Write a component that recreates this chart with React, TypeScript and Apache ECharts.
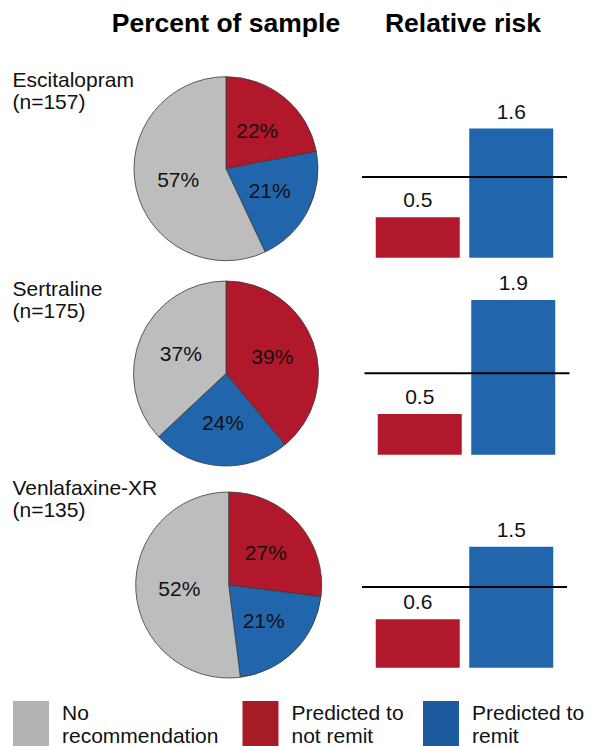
import React, { useEffect, useRef } from "react";
import * as echarts from "echarts";

// ---- data ----
const drugs = ["Escitalopram", "Sertraline", "Venlafaxine-XR"];
const sampleSizes = [157, 175, 135];
const groupNames = ["No recommendation", "Predicted to not remit", "Predicted to remit"];
const notRemitPct = [22, 39, 27];
const remitPct = [21, 24, 21];
const noRecPct = [57, 37, 52];
const riskCategories = ["Predicted to not remit", "Predicted to remit"];
const rrNotRemit = [0.5, 0.5, 0.6];
const rrRemit = [1.6, 1.9, 1.5];
const referenceRR = 1;
const rrAxisMax = 2;

// ---- layout / style ----
const FONT = "'Liberation Sans', Arial, Helvetica, sans-serif";
const RED = "#b2182b";
const BLUE = "#2166ac";
const GRAY = "#bdbdbd";
const LEG_GRAY = "#b3b3b3";
const LEG_RED = "#a61c26";
const LEG_BLUE = "#1b5b9e";

const pieCenters = [
  [226, 168.7],
  [226, 373.5],
  [228.7, 585],
];
const pieRadii = [92, 92.5, 93];
const panelTops = [96.3, 291.9, 506.3];
const panelHeights = [161.4, 162.8, 161.4];
const barLefts = [371, 373, 371];
const lineLefts = [362, 364.5, 362];
const drugLabelY = [
  [79.5, 101.5],
  [288.5, 310.5],
  [487.5, 509.5],
];

export default function App() {
  const ref = useRef<HTMLDivElement>(null);

  useEffect(() => {
    document.body.style.margin = "0";
    if (!ref.current) return;
    const chart = echarts.init(ref.current, null, { renderer: "svg" });

    const grid: any[] = [];
    const xAxis: any[] = [];
    const yAxis: any[] = [];
    const series: any[] = [];

    drugs.forEach((d, i) => {
      // pie
      series.push({
        type: "pie",
        center: pieCenters[i],
        radius: pieRadii[i],
        startAngle: 90,
        clockwise: true,
        silent: true,
        animation: false,
        itemStyle: { borderColor: "#3a3a3a", borderWidth: 0.8 },
        label: {
          show: true,
          position: "inside",
          formatter: "{c}%",
          fontSize: 21,
          fontFamily: FONT,
          color: "#111",
        },
        labelLine: { show: false },
        emphasis: { disabled: true },
        data: [
          { name: groupNames[1], value: notRemitPct[i], itemStyle: { color: RED } },
          { name: groupNames[2], value: remitPct[i], itemStyle: { color: BLUE } },
          { name: groupNames[0], value: noRecPct[i], itemStyle: { color: GRAY } },
        ],
      });

      // bar grid
      const gBar = grid.length;
      grid.push({ left: barLefts[i], width: 187, top: panelTops[i], height: panelHeights[i], containLabel: false });
      xAxis.push({ type: "category", gridIndex: gBar, data: riskCategories, show: false, boundaryGap: true });
      yAxis.push({ type: "value", gridIndex: gBar, min: 0, max: rrAxisMax, show: false });
      series.push({
        type: "bar",
        xAxisIndex: gBar,
        yAxisIndex: gBar,
        barWidth: 84,
        silent: true,
        z: 2,
        label: {
          show: true,
          position: "top",
          distance: 7,
          fontSize: 21,
          fontFamily: FONT,
          color: "#111",
          formatter: (p: any) => p.value.toFixed(1),
        },
        data: [
          { value: rrNotRemit[i], itemStyle: { color: RED } },
          { value: rrRemit[i], itemStyle: { color: BLUE } },
        ],
      });

      // reference line grid
      const gLine = grid.length;
      grid.push({ left: lineLefts[i], width: 205, top: panelTops[i], height: panelHeights[i], containLabel: false });
      xAxis.push({ type: "value", gridIndex: gLine, min: 0, max: 1, show: false });
      yAxis.push({ type: "value", gridIndex: gLine, min: 0, max: rrAxisMax, show: false });
      series.push({
        type: "line",
        xAxisIndex: gLine,
        yAxisIndex: gLine,
        symbol: "none",
        silent: true,
        z: 5,
        lineStyle: { color: "#000", width: 2 },
        data: [
          [0, referenceRR],
          [1, referenceRR],
        ],
      });
    });

    const graphic: any[] = [
      {
        type: "text",
        x: 226,
        y: 23.4,
        style: { text: "Percent of sample", font: `bold 26.5px ${FONT}`, fill: "#000", align: "center", verticalAlign: "middle" },
      },
      {
        type: "text",
        x: 463,
        y: 23.4,
        style: { text: "Relative risk", font: `bold 26.5px ${FONT}`, fill: "#000", align: "center", verticalAlign: "middle" },
      },
    ];
    drugs.forEach((d, i) => {
      graphic.push({
        type: "text",
        x: 12.5,
        y: drugLabelY[i][0],
        style: { text: d, font: `21px ${FONT}`, fill: "#111", align: "left", verticalAlign: "middle" },
      });
      graphic.push({
        type: "text",
        x: 12.5,
        y: drugLabelY[i][1],
        style: { text: `(n=${sampleSizes[i]})`, font: `21px ${FONT}`, fill: "#111", align: "left", verticalAlign: "middle" },
      });
    });

    // legend
    const legendItems = [
      { color: LEG_GRAY, x: 13, lines: ["No", "recommendation"] },
      { color: LEG_RED, x: 242.5, lines: ["Predicted to", "not remit"] },
      { color: LEG_BLUE, x: 423, lines: ["Predicted to", "remit"] },
    ];
    legendItems.forEach((it) => {
      graphic.push({ type: "rect", shape: { x: it.x, y: 701, width: 36, height: 50 }, style: { fill: it.color } });
      it.lines.forEach((ln, k) => {
        graphic.push({
          type: "text",
          x: it.x + 49,
          y: 712 + k * 23,
          style: { text: ln, font: `21px ${FONT}`, fill: "#111", align: "left", verticalAlign: "middle" },
        });
      });
    });

    chart.setOption({
      animation: false,
      backgroundColor: "#fff",
      grid,
      xAxis,
      yAxis,
      series,
      graphic,
    });

    return () => chart.dispose();
  }, []);

  return <div ref={ref} style={{ width: 589, height: 746 }} />;
}
